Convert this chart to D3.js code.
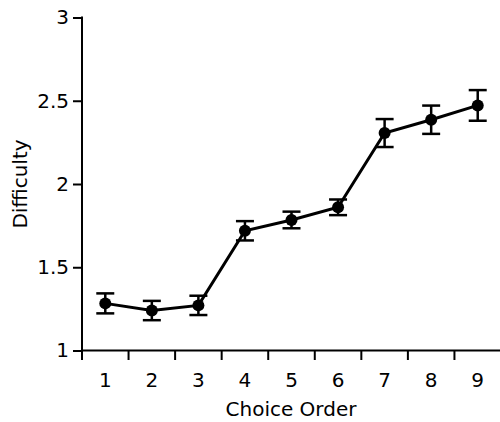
<!DOCTYPE html>
<html>
<head>
<meta charset="utf-8">
<script src="https://cdn.jsdelivr.net/npm/d3@7"></script>
<style>
html,body{margin:0;padding:0;background:#fff;}
svg{display:block;}
text{font-family:"DejaVu Sans",sans-serif;fill:#000;}
</style>
</head>
<body>
<svg id="chart" width="500" height="422"></svg>
<script>
const categories = [1,2,3,4,5,6,7,8,9];
const means = [1.283, 1.240, 1.271, 1.719, 1.784, 1.860, 2.306, 2.386, 2.472];
const errors = [0.060, 0.058, 0.058, 0.058, 0.050, 0.047, 0.084, 0.085, 0.092];
const yTicks = [1, 1.5, 2, 2.5, 3];
const xTitle = "Choice Order";
const yTitle = "Difficulty";

const svg = d3.select("#chart");
const pLeft = 82, pRight = 501, pTop = 17.5, pBottom = 350.5;
const fs = "20px";

const x = d3.scaleBand().domain(categories).range([pLeft, pRight]).paddingInner(0).paddingOuter(0);
const y = d3.scaleLinear().domain([1, 3]).range([pBottom, pTop]);

// y axis
const yAxis = svg.append("g").attr("transform", `translate(${pLeft},0)`)
  .call(d3.axisLeft(y).tickValues(yTicks).tickFormat(d3.format("")).tickSize(9).tickSizeOuter(0).tickPadding(4));
yAxis.select(".domain").remove();
yAxis.selectAll("line").attr("stroke", "#000").attr("stroke-width", 2);
yAxis.selectAll("text").style("font-size", fs).attr("font-family", "DejaVu Sans");
yAxis.append("line").attr("x1", 0).attr("x2", 0).attr("y1", pTop - 1).attr("y2", pBottom + 9.5)
  .attr("stroke", "#000").attr("stroke-width", 2);

// x axis
const xg = svg.append("g").attr("transform", `translate(0,${pBottom})`);
xg.append("line").attr("x1", pLeft).attr("x2", pRight).attr("y1", 0).attr("y2", 0)
  .attr("stroke", "#000").attr("stroke-width", 2);
xg.selectAll("line.tk").data(categories.slice(1)).enter().append("line").attr("class", "tk")
  .attr("x1", d => x(d)).attr("x2", d => x(d)).attr("y1", 0).attr("y2", 9.5)
  .attr("stroke", "#000").attr("stroke-width", 2);
xg.selectAll("text.lb").data(categories).enter().append("text").attr("class", "lb")
  .attr("x", d => x(d) + x.bandwidth() / 2).attr("y", 36)
  .attr("text-anchor", "middle").style("font-size", fs).text(d => d);

// titles
svg.append("text").attr("x", (pLeft + 500) / 2).attr("y", 416).attr("text-anchor", "middle")
  .style("font-size", fs).text(xTitle);
svg.append("text").attr("transform", `translate(27,${(pTop + pBottom) / 2}) rotate(-90)`)
  .attr("text-anchor", "middle").style("font-size", fs).text(yTitle);

const cx = d => x(d) + x.bandwidth() / 2;
const data = categories.map((c, i) => ({c, m: means[i], e: errors[i]}));

// line
svg.append("path").datum(data)
  .attr("d", d3.line().x(d => cx(d.c)).y(d => y(d.m)))
  .attr("fill", "none").attr("stroke", "#000").attr("stroke-width", 3);

// error bars
const eb = svg.append("g").selectAll("g").data(data).enter().append("g");
eb.append("line").attr("x1", d => cx(d.c)).attr("x2", d => cx(d.c))
  .attr("y1", d => y(d.m + d.e)).attr("y2", d => y(d.m - d.e))
  .attr("stroke", "#000").attr("stroke-width", 2.5);
eb.append("line").attr("x1", d => cx(d.c) - 9).attr("x2", d => cx(d.c) + 9)
  .attr("y1", d => y(d.m + d.e)).attr("y2", d => y(d.m + d.e))
  .attr("stroke", "#000").attr("stroke-width", 2.5);
eb.append("line").attr("x1", d => cx(d.c) - 9).attr("x2", d => cx(d.c) + 9)
  .attr("y1", d => y(d.m - d.e)).attr("y2", d => y(d.m - d.e))
  .attr("stroke", "#000").attr("stroke-width", 2.5);

// markers
svg.append("g").selectAll("circle").data(data).enter().append("circle")
  .attr("cx", d => cx(d.c)).attr("cy", d => y(d.m)).attr("r", 6).attr("fill", "#000");
</script>
</body>
</html>
